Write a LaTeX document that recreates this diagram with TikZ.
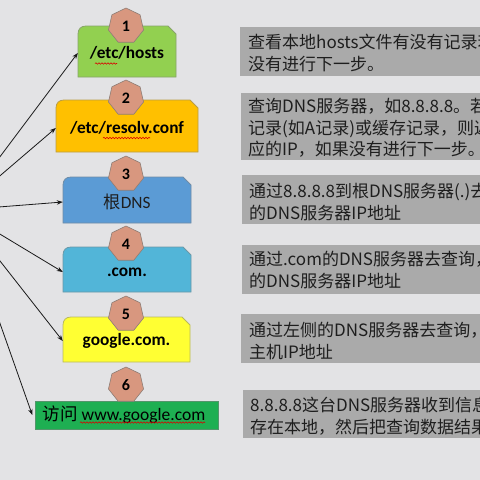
\documentclass[tikz,border=0pt]{standalone}
\usepackage{fontspec}
\setmainfont{Carlito}
\newfontfamily\cjk{Noto Sans CJK SC}
\usetikzlibrary{shapes.geometric,arrows.meta,decorations.pathmorphing}
\definecolor{bgc}{HTML}{E3E3E5}
\definecolor{grayc}{HTML}{AAAAAA}
\definecolor{hepc}{HTML}{D8977F}
\definecolor{hepd}{HTML}{8E7E76}
\definecolor{cone}{HTML}{92D050}
\definecolor{ctwo}{HTML}{FFC000}
\definecolor{cthree}{HTML}{5B9BD5}
\definecolor{cfour}{HTML}{52B5D8}
\definecolor{cfive}{HTML}{FFFF33}
\definecolor{csix}{HTML}{1EAF52}
\definecolor{txtc}{HTML}{1E1E1E}
\newcommand\tabshape[5]{%
  \draw[fill=#5, draw=#5!45!gray, line width=0.8pt]
    (#1,#4) -- ({#1},{#2+8}) .. controls ({#1},{#2+3}) and ({#1+3},{#2}) .. ({#1+8},{#2})
    -- ({#3-8},{#2}) -- ({#3},{#2+8}) -- (#3,#4) -- cycle;}
\tikzset{
  hep/.style={regular polygon, regular polygon sides=7, minimum size=36pt, inner sep=0pt,
    fill=hepc, draw=hepd, line width=0.6pt, font=\fontsize{16}{16}\selectfont\bfseries},
  boxtext/.style={inner sep=0pt, text=black},
  infobox/.style={fill=grayc, draw=none},
  infotext/.style={anchor=west, align=left, inner sep=0pt, text=txtc,
    font=\cjk\fontsize{17}{21.5}\selectfont},
  arr/.style={-{Stealth[length=6pt,width=4.5pt]}, line width=0.8pt, draw=black!90},
  squig/.style={red!85!black, line width=0.6pt, decorate,
    decoration={snake, segment length=3pt, amplitude=0.7pt}}
}
\begin{document}
\begin{tikzpicture}[x=1pt,y=-1pt]
\useasboundingbox (0,0) rectangle (480,480);
\clip (0,0) rectangle (480,480);
\fill[bgc] (0,0) rectangle (480,480);

% right-side info boxes
\fill[infobox] (240,27) rectangle (490,76);
\fill[infobox] (241,93) rectangle (490,160);
\fill[infobox] (242,175) rectangle (490,224);
\fill[infobox] (242,245) rectangle (490,294);
\fill[infobox] (241,314) rectangle (490,363);
\fill[infobox] (243,390) rectangle (490,438);
\node[infotext] (tA) at (248,53) {查看本地hosts文件有没有记录若\\没有进行下一步。};
\node[infotext] (tB) at (248,128) {查询DNS服务器，如8.8.8.8。若有\\记录(如A记录)或缓存记录，则返回对\\应的IP，如果没有进行下一步。};
\node[infotext] (tC) at (249,202) {通过8.8.8.8到根DNS服务器(.)去查询\\的DNS服务器IP地址};
\node[infotext] (tD) at (249,270) {通过.com的DNS服务器去查询，获得\\的DNS服务器IP地址};
\node[infotext] (tE) at (249,341) {通过左侧的DNS服务器去查询，获得\\主机IP地址};
\node[infotext] (tF) at (250,416) {8.8.8.8这台DNS服务器收到信息后\\存在本地，然后把查询数据结果};

% left-side boxes
\tabshape{78}{26}{176}{77}{cone}
\tabshape{56}{100}{198}{152}{ctwo}
\tabshape{63}{177}{191}{223}{cthree}
\tabshape{63}{247}{191}{292}{cfour}
\tabshape{63}{317}{190}{362}{cfive}
\draw[fill=csix, draw=csix!45!gray, line width=0.8pt] (35,401) rectangle (218,429);

\node[boxtext, minimum width=98pt, minimum height=10pt, font=\fontsize{17.3}{17.3}\selectfont\bfseries] (b1) at (127,53) {/etc/hosts};
\node[boxtext, minimum width=142pt, minimum height=10pt, font=\fontsize{17.3}{17.3}\selectfont\bfseries] (b2) at (127,128) {/etc/resolv.conf};
\node[boxtext, minimum width=128pt, minimum height=10pt, font=\fontsize{17.3}{17.3}\selectfont, text=txtc] (b3) at (127,202) {{\cjk 根}DNS};
\node[boxtext, minimum width=128pt, minimum height=10pt, font=\fontsize{17.3}{17.3}\selectfont\bfseries] (b4) at (127,272) {.com.};
\node[boxtext, minimum width=127pt, minimum height=10pt, font=\fontsize{17.3}{17.3}\selectfont\bfseries] (b5) at (126.5,341) {google.com.};
\node[boxtext, minimum width=183pt, minimum height=10pt, font=\fontsize{17.5}{17.5}\selectfont] (b6) at (124,415) {{\cjk 访问} www.google.com};

% spell-check underlines
\draw[squig] (95,63.5) -- (117,63.5);
\draw[squig] (103,138) -- (150,138);
\draw[squig] (80,422.5) -- (205,422.5);

% step numbers
\node[hep] (h1) at (126,26) {1};
\node[hep] (h2) at (126,98) {2};
\node[hep] (h3) at (126,174) {3};
\node[hep] (h4) at (126,244) {4};
\node[hep] (h5) at (126,314) {5};
\node[hep] (h6) at (126,385) {6};

% arrows
\coordinate (src) at (-40,210);
\draw[arr] (src) -- (b1.west);
\draw[arr] (src) -- (b2.west);
\draw[arr] (src) -- (b3.west);
\draw[arr] (src) -- (b4.west);
\draw[arr] (src) -- (b5.west);
\draw[arr] (src) -- (b6.west);
\end{tikzpicture}
\end{document}
